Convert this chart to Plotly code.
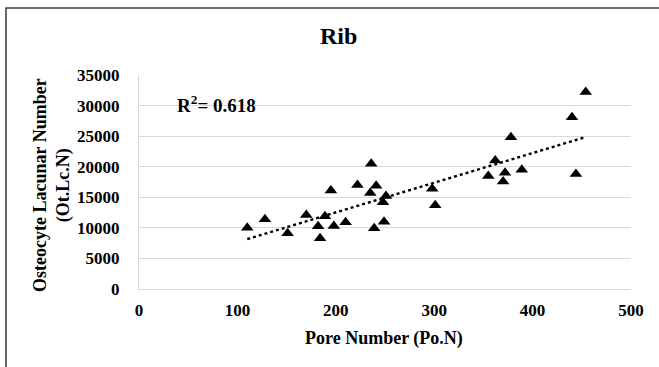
import numpy as np
import plotly.graph_objects as go

# Data
pore_number = [110, 128, 151, 170, 182, 184, 189, 195, 198, 210, 222, 236, 235, 241,
               251, 248, 239, 249, 298, 301, 355, 362, 372, 370, 378, 389, 440, 454, 444]
lacunar_number = [10000, 11400, 9100, 12100, 10250, 8300, 11900, 16100, 10300, 10900,
                  17000, 20500, 15700, 16900, 15200, 14200, 9950, 11000, 16400, 13700,
                  18500, 21000, 19000, 17600, 24800, 19500, 28100, 32200, 18800]
x_ticks = [0, 100, 200, 300, 400, 500]
y_ticks = [0, 5000, 10000, 15000, 20000, 25000, 30000, 35000]
r2_label = "R<sup>2</sup>= 0.618"

FONT = "Liberation Serif"
GRID = "#d9d9d9"

# linear trendline from the data
xa = np.array(pore_number, dtype=float)
ya = np.array(lacunar_number, dtype=float)
slope, intercept = np.polyfit(xa, ya, 1)
tx = np.array([xa.min(), xa.max()])
ty = slope * tx + intercept

fig = go.Figure()
fig.add_trace(go.Scatter(
    x=tx, y=ty, mode="lines",
    line=dict(color="black", width=2.4, dash="dot"),
    showlegend=False, hoverinfo="skip"))
fig.add_trace(go.Scatter(
    x=pore_number, y=lacunar_number, mode="markers",
    marker=dict(symbol="triangle-up", size=11, color="black"),
    showlegend=False))

W, H = 659, 367
L, T = 139, 75
RIGHT, BOTTOM = 631, 289
R, B = W - RIGHT, H - BOTTOM
pw, ph = RIGHT - L, BOTTOM - T

def px(xp):
    return (xp - L) / pw

def py(yp):
    return (BOTTOM - yp) / ph

fig.update_layout(
    width=W, height=H,
    margin=dict(l=L, r=R, t=T, b=B),
    paper_bgcolor="white", plot_bgcolor="white",
    font=dict(family=FONT, color="black"),
    xaxis=dict(range=[0, 500], tickvals=x_ticks, tickformat="d",
               showgrid=False, zeroline=False, showline=True, linecolor=GRID, linewidth=1,
               tickfont=dict(family=FONT, size=17, color="black", weight="bold"),
               ticks="", ticklabelstandoff=6, fixedrange=True),
    yaxis=dict(range=[0, 35000], tickvals=y_ticks, tickformat="d",
               showgrid=True, gridcolor=GRID, gridwidth=1,
               zeroline=False, showline=True, linecolor=GRID, linewidth=1,
               tickfont=dict(family=FONT, size=17, color="black", weight="bold"),
               ticks="", ticklabelstandoff=15, fixedrange=True),
    annotations=[
        dict(text="<b>Rib</b>", x=px(338), y=py(36), xref="paper", yref="paper",
             xanchor="center", yanchor="middle",
             showarrow=False, font=dict(family=FONT, size=24, color="black")),
        dict(text="<b>" + r2_label + "</b>", x=px(216), y=py(104), xref="paper", yref="paper",
             xanchor="center", yanchor="middle",
             showarrow=False, font=dict(family=FONT, size=19, color="black")),
        dict(text="<b>Pore Number (Po.N)</b>", x=px(384), y=py(338), xref="paper", yref="paper",
             xanchor="center", yanchor="middle",
             showarrow=False, font=dict(family=FONT, size=18, color="black")),
        dict(text="<b>Osteocyte Lacunar Number<br>(Ot.Lc.N)</b>", x=px(52), y=py(185),
             xref="paper", yref="paper", textangle=-90, showarrow=False,
             xanchor="center", yanchor="middle",
             font=dict(family=FONT, size=18, color="black")),
    ],
    shapes=[
        dict(type="rect", xref="paper", yref="paper",
             x0=px(6), x1=px(720), y0=py(420), y1=py(8),
             line=dict(color="#404040", width=1.6), fillcolor="rgba(0,0,0,0)", layer="below"),
    ],
)

fig.write_html("out.html",
               config={"displayModeBar": False, "staticPlot": True},
               post_script="document.body.style.margin='0';document.body.style.overflow='hidden';")
